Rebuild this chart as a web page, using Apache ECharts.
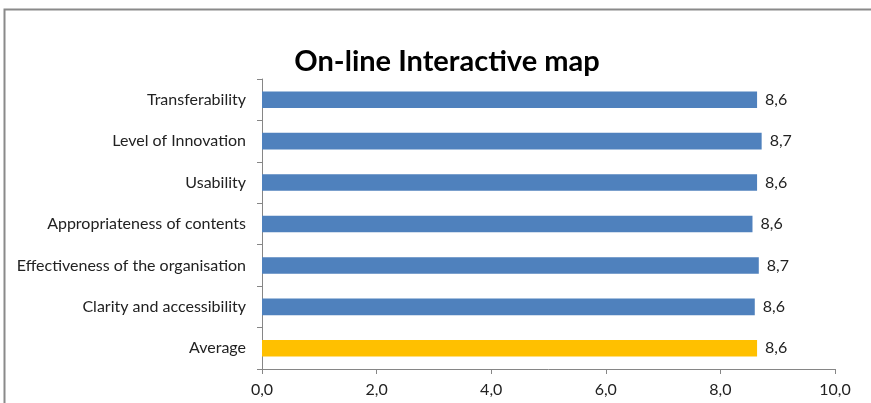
<!DOCTYPE html>
<html>
<head>
<meta charset="utf-8">
<script src="https://cdn.jsdelivr.net/npm/echarts@6/dist/echarts.min.js"></script>
<style>
  html, body { margin: 0; padding: 0; background: #fff; }
  #chart { width: 871px; height: 403px; }
</style>
</head>
<body>
<div id="chart"></div>
<script>
// Criteria listed bottom-to-top (category axis starts at the bottom)
const categories = [
  'Average',
  'Clarity and accessibility',
  'Effectiveness of the organisation',
  'Appropriateness of contents',
  'Usability',
  'Level of Innovation',
  'Transferability'
];
const scores = [8.64, 8.60, 8.67, 8.56, 8.64, 8.72, 8.64];
const averageIndex = 0;
const xTicks = [0, 2, 4, 6, 8, 10];

const fmt = v => Number(v).toFixed(1).replace('.', ',');
const FONT = 'Lato';
const FS = 16;

const chart = echarts.init(document.getElementById('chart'));
chart.setOption({
  animation: false,
  backgroundColor: '#fff',
  textStyle: { fontFamily: FONT },
  title: {
    text: 'On-line Interactive map',
    left: 442,
    top: 42,
    textAlign: 'center',
    textStyle: { fontFamily: FONT, fontSize: 29, fontWeight: 'bold', color: '#000' }
  },
  graphic: [{
    type: 'rect',
    shape: { x: 4.5, y: 9.5, width: 1000, height: 1000 },
    style: { fill: 'none', stroke: '#8a8a8a', lineWidth: 2 },
    silent: true
  }],
  grid: { left: 262, right: 36, top: 79, bottom: 34, containLabel: false },
  xAxis: {
    type: 'value',
    min: xTicks[0],
    max: xTicks[xTicks.length - 1],
    interval: xTicks[1] - xTicks[0],
    axisLine: { show: true, lineStyle: { color: '#868686', width: 1 } },
    axisTick: { show: true, length: 5, lineStyle: { color: '#868686' } },
    splitLine: { show: false },
    axisLabel: { formatter: fmt, margin: 13, fontSize: FS, color: '#222', fontFamily: FONT }
  },
  yAxis: {
    type: 'category',
    data: categories,
    axisLine: { show: true, lineStyle: { color: '#868686', width: 1 } },
    axisTick: { show: true, length: 5, alignWithLabel: false, lineStyle: { color: '#868686' } },
    axisLabel: { margin: 16, fontSize: FS, color: '#222', fontFamily: FONT }
  },
  series: [{
    type: 'bar',
    data: scores.map((v, i) => ({
      value: v,
      itemStyle: { color: i === averageIndex ? '#FFC000' : '#4F81BD' }
    })),
    barWidth: '40%',
    label: {
      show: true,
      position: 'right',
      distance: 8,
      formatter: p => fmt(p.value),
      fontSize: FS,
      color: '#222',
      fontFamily: FONT
    }
  }]
});
</script>
</body>
</html>
